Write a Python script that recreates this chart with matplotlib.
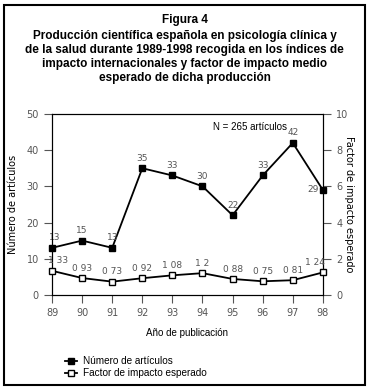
import matplotlib
matplotlib.use("Agg")
import matplotlib.pyplot as plt
from matplotlib.lines import Line2D
from matplotlib.patches import Rectangle

years = [89, 90, 91, 92, 93, 94, 95, 96, 97, 98]
articulos = [13, 15, 13, 35, 33, 30, 22, 33, 42, 29]
impacto = [1.33, 0.93, 0.73, 0.92, 1.08, 1.2, 0.88, 0.75, 0.81, 1.24]
art_labels = ['13', '15', '13', '35', '33', '30', '22', '33', '42', '29']
imp_labels = ['1 33', '0 93', '0 73', '0 92', '1 08', '1 2', '0 88', '0 75', '0 81', '1 24']

narrow = ['Liberation Sans Narrow', 'DejaVu Sans']
gray = '#555555'

fig = plt.figure(figsize=(3.69, 3.89), dpi=100)
fig.patches.append(Rectangle((0.012, 0.01), 0.976, 0.978, transform=fig.transFigure,
                             fill=False, lw=1.5, ec='black'))

fig.text(0.5, 1 - 20 / 389, 'Figura 4', ha='center', va='center', fontsize=8.5,
         fontweight='bold', family='Liberation Sans')
fig.text(0.5, 1 - 57 / 389, 'Producción científica española en psicología clínica y\n'
         'de la salud durante 1989-1998 recogida en los índices de\n'
         'impacto internacionales y factor de impacto medio\n'
         'esperado de dicha producción',
         ha='center', va='center', fontsize=8.5, fontweight='bold',
         family='Liberation Sans', linespacing=1.2)

ax = fig.add_axes([0.141, 0.242, 0.734, 0.465])
ax2 = ax.twinx()

ax.plot(years, articulos, color='black', lw=1.3, marker='s', ms=5,
        mfc='black', mec='black', zorder=3, clip_on=False)
ax2.plot(years, impacto, color='black', lw=1.3, marker='s', ms=5,
         mfc='white', mec='black', zorder=3, clip_on=False)

# small nudges so edge labels stay off the spines
art_dx = {89: 0.1}
imp_dx = {89: 0.2, 98: -0.25}
for x, y, t in zip(years, articulos, art_labels):
    if x == 98:
        ax.text(x - 0.15, y, t, ha='right', va='center', fontsize=6.5,
                color=gray, family=narrow)
    else:
        ax.text(x + art_dx.get(x, 0), y + 1.5, t, ha='center', va='bottom',
                fontsize=6.5, color=gray, family=narrow)
for x, y, t in zip(years, impacto, imp_labels):
    ax2.text(x + imp_dx.get(x, 0), y + 0.3, t, ha='center', va='bottom',
             fontsize=6.5, color=gray, family=narrow)

ax.set_xlim(89, 98)
ax.set_ylim(0, 50)
ax2.set_ylim(0, 10)
ax.set_xticks(years)
ax.set_yticks([0, 10, 20, 30, 40, 50])
ax2.set_yticks([0, 2, 4, 6, 8, 10])

for a in (ax, ax2):
    a.tick_params(length=6, width=0.8, color=gray, labelsize=7, labelcolor=gray)
    for lab in a.get_xticklabels() + a.get_yticklabels():
        lab.set_family(narrow)
    for s in a.spines.values():
        s.set_linewidth(0.8)

ax.set_xlabel('Año de publicación', fontsize=7, family='Liberation Sans', labelpad=7)
ax.set_ylabel('Número de artículos', fontsize=7, family=narrow, labelpad=6)
ax2.set_ylabel('Factor de impacto esperado', fontsize=7, family=narrow,
               rotation=-90, labelpad=4)

ax.text(0.594, 0.93, 'N = 265 artículos', transform=ax.transAxes, fontsize=7,
        family='Liberation Sans', ha='left', va='center')

handles = [Line2D([], [], color='black', lw=1.3, marker='s', ms=5, mfc='black'),
           Line2D([], [], color='black', lw=1.3, marker='s', ms=5, mfc='white')]
fig.legend(handles, ['Número de artículos', 'Factor de impacto esperado'],
           loc='upper left', bbox_to_anchor=(0.165, 0.095), frameon=False,
           prop={'family': 'Liberation Sans', 'size': 7.2}, handlelength=1.2,
           handletextpad=0.6, labelspacing=0.2, borderaxespad=0)

fig.savefig('out.png', dpi=100)
